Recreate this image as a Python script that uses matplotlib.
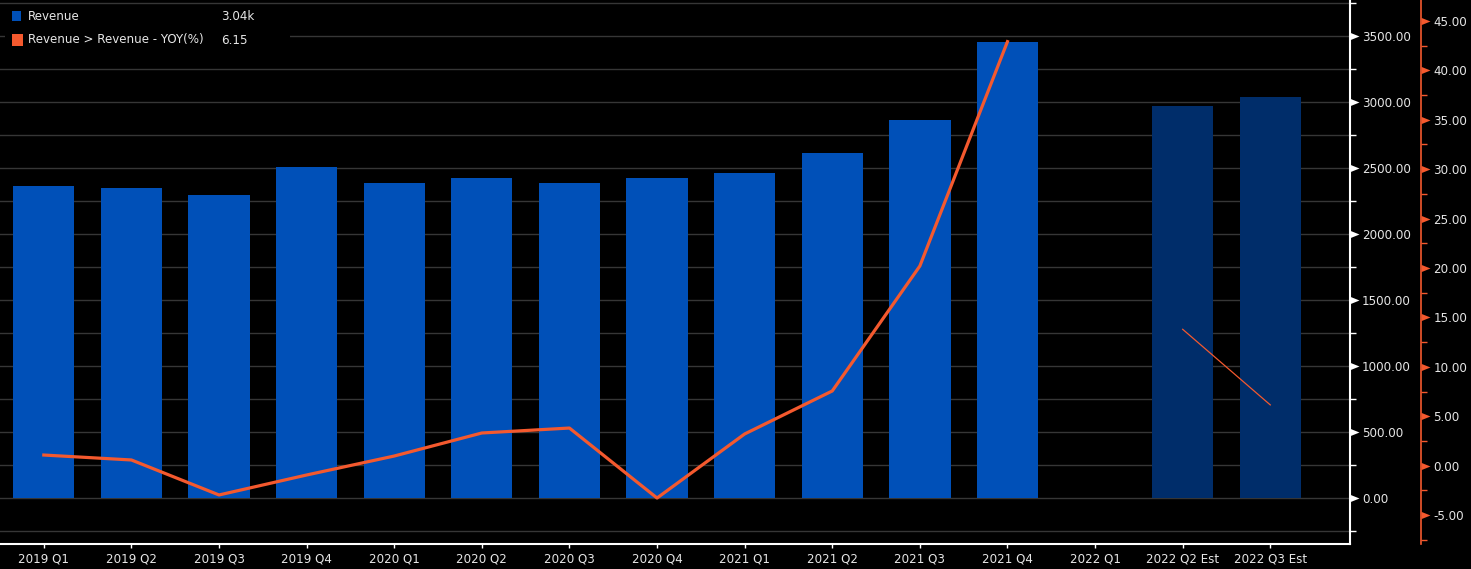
import numpy as np
import matplotlib
matplotlib.use("Agg")
import matplotlib.pyplot as plt
from matplotlib.path import Path
from matplotlib.ticker import MultipleLocator, FormatStrFormatter

quarters = ["2019 Q1", "2019 Q2", "2019 Q3", "2019 Q4", "2020 Q1", "2020 Q2",
            "2020 Q3", "2020 Q4", "2021 Q1", "2021 Q2", "2021 Q3", "2021 Q4",
            "2022 Q1", "2022 Q2 Est", "2022 Q3 Est"]
revenue = [2361, 2346, 2293, 2506, 2384, 2422, 2384, 2422, 2460, 2612, 2863, 3455,
           np.nan, 2969, 3040]
is_est = [False] * 12 + [False, True, True]
yoy = [1.08, 0.58, -2.96, -0.94, 0.98, 3.31, 3.81, -3.27, 3.21, 7.56, 20.2, 42.9]
yoy_est = [13.8, 6.15]

BG = "black"
BAR = "#0050b8"
BAR_EST = "#002d6a"
LINE = "#f4592e"
TXT = "#e6e6e6"
FS = 8.6

W, H = 1471, 569
fig = plt.figure(figsize=(W / 100, H / 100), dpi=100, facecolor=BG)
ax = fig.add_axes([0, 25 / H, 1350 / W, 544 / H], facecolor=BG)
ax2 = ax.twinx()

x = np.arange(len(quarters))
colors = [BAR_EST if e else BAR for e in is_est]
ax.bar(x, revenue, width=0.7, color=colors, zorder=2)
ax.set_xlim(-0.5, 14.91)
ax.set_ylim(-346, 3772)
ax.set_xticks(x)
ax.set_xticklabels(quarters)

ax.yaxis.tick_right()
ax.yaxis.set_label_position("right")
ax.yaxis.set_major_locator(MultipleLocator(500))
ax.yaxis.set_minor_locator(MultipleLocator(250))
ax.yaxis.set_major_formatter(FormatStrFormatter("%.2f"))
ax.grid(True, which="both", axis="y", color="#363636", lw=1, zorder=0)

for s in ["top", "left"]:
    ax.spines[s].set_visible(False)
for s in ["right", "bottom"]:
    ax.spines[s].set_color("white")
    ax.spines[s].set_linewidth(1.5)

ax.tick_params(axis="x", colors=TXT, labelsize=FS, length=3, width=1, color="white", pad=3)
ax.tick_params(axis="y", which="major", colors=TXT, labelsize=FS)
ax.tick_params(axis="y", which="minor", length=4, width=1, color="white")

ax2.set_ylim(-7.92, 47.11)
ax2.plot(x[:12], yoy, color=LINE, lw=2.3, zorder=5)
ax2.plot(x[13:], yoy_est, color=LINE, lw=0.9, zorder=5)
ax2.yaxis.set_major_locator(MultipleLocator(5))
ax2.yaxis.set_minor_locator(MultipleLocator(2.5))
ax2.yaxis.set_major_formatter(FormatStrFormatter("%.2f"))
ax2.spines["right"].set_position(("axes", 1421.5 / 1350))
ax2.spines["right"].set_color(LINE)
ax2.spines["right"].set_linewidth(1.2)
for s in ["top", "left", "bottom"]:
    ax2.spines[s].set_visible(False)
ax2.tick_params(axis="y", which="major", colors=TXT, labelsize=FS)
ax2.tick_params(axis="y", which="minor", length=4, width=1, color=LINE)

tri = Path([(0, -0.4), (1, 0), (0, 0.4), (0, -0.4)],
           [Path.MOVETO, Path.LINETO, Path.LINETO, Path.CLOSEPOLY])
for a, c in [(ax, "white"), (ax2, LINE)]:
    a.tick_params(axis="y", which="major", length=7, width=0, pad=1.5)
    for t in a.yaxis.get_major_ticks():
        t.tick2line.set_marker(tri)
        t.tick2line.set_markersize(13)
        t.tick2line.set_markerfacecolor(c)
        t.tick2line.set_markeredgecolor(c)
        t.tick2line.set_markeredgewidth(0)

# legend box
ax.add_patch(plt.Rectangle((5 / 1350, 1 - 50 / 544), 285 / 1350, 44 / 544,
                           transform=ax.transAxes, facecolor=BG, edgecolor="none", zorder=6))
items = [("Revenue", "3.04k", BAR), ("Revenue > Revenue - YOY(%)", "6.15", LINE)]
for i, (name, val, c) in enumerate(items):
    yy = 1 - (16 + 24 * i) / 544
    sq = 9 if i == 0 else 11
    ax.add_patch(plt.Rectangle((12 / 1350, yy - sq / 2 / 544), sq / 1350, sq / 544,
                               transform=ax.transAxes, facecolor=c, edgecolor="none", zorder=7))
    ax.text(28 / 1350, yy, name, transform=ax.transAxes, color=TXT, fontsize=FS,
            va="center", ha="left", zorder=8)
    ax.text(221 / 1350, yy, val, transform=ax.transAxes, color=TXT, fontsize=FS,
            va="center", ha="left", zorder=8)

fig.savefig("out.png", dpi=100, facecolor=BG)
